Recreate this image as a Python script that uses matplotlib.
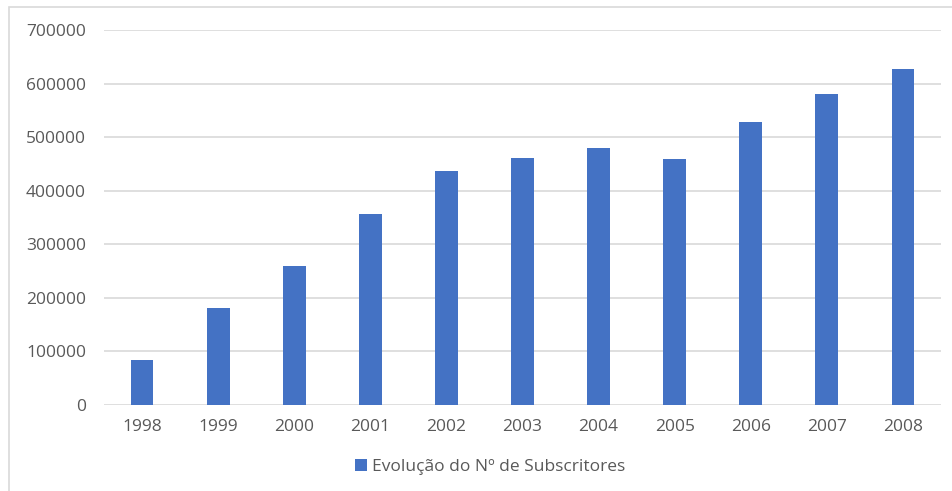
import matplotlib.pyplot as plt
from matplotlib.patches import Rectangle

years = ["1998", "1999", "2000", "2001", "2002", "2003", "2004", "2005", "2006", "2007", "2008"]
subscritores = [84000, 181500, 260000, 356000, 437000, 461000, 480000, 459500, 528500, 580000, 628000]
y_ticks = [0, 100000, 200000, 300000, 400000, 500000, 600000, 700000]

plt.rcParams["font.family"] = ["Open Sans", "DejaVu Sans"]

W, H = 952, 491
fig = plt.figure(figsize=(W / 100, H / 100), dpi=100)
ax = fig.add_axes([104 / W, 1 - 405 / H, (941 - 104) / W, (405 - 30) / H])

# chart frame
fig.patches.append(Rectangle((9 / W, -0.1), 1.2, 1 - 7 / H + 0.1, transform=fig.transFigure,
                             fill=False, edgecolor="#d9d9d9", linewidth=1.2))

ax.bar(range(len(years)), subscritores, width=0.3, color="#4472C4",
       label="Evolução do Nº de Subscritores", zorder=3)

ax.set_xlim(-0.5, len(years) - 0.5)
ax.set_ylim(0, 700000)
ax.set_yticks(y_ticks)
ax.set_yticklabels([str(v) for v in y_ticks])
ax.set_xticks(range(len(years)))
ax.set_xticklabels(years)
ax.yaxis.grid(True, color="#d9d9d9", linewidth=1.2, zorder=0)
ax.set_axisbelow(True)
for s in ax.spines.values():
    s.set_visible(False)
ax.tick_params(axis="both", length=0, labelsize=12.5, colors="#595959")
ax.tick_params(axis="y", pad=13)
ax.tick_params(axis="x", pad=10)

fig.legend(loc="center", bbox_to_anchor=(490 / W, 1 - 467 / H), frameon=False,
           fontsize=12.5, labelcolor="#595959", handlelength=0.7, handleheight=0.7,
           handletextpad=0.3)

fig.savefig("out.png", dpi=100)
